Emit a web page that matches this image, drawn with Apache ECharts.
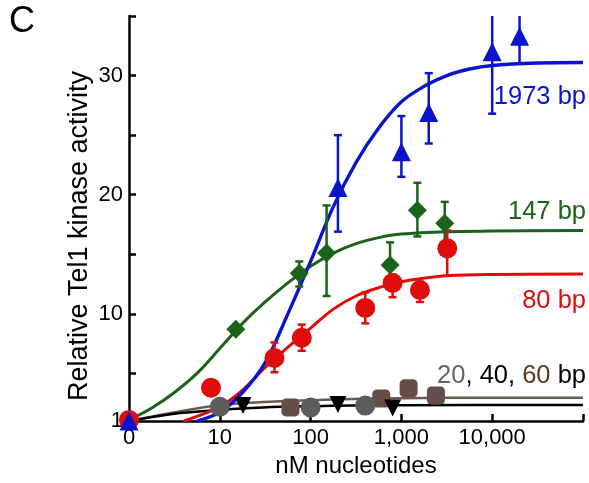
<!DOCTYPE html>
<html>
<head>
<meta charset="utf-8">
<script src="https://cdn.jsdelivr.net/npm/echarts@6/dist/echarts.min.js"></script>
<style>
  html, body { margin: 0; padding: 0; background: #fff; }
  #chart { width: 589px; height: 483px; }
</style>
</head>
<body>
<div id="chart"></div>
<script>
// x in nM nucleotides (0 is drawn at the left end of the log axis)
const yTickValues = [1, 5, 10, 15, 20, 25, 30, 35];
const yLabelValues = [1, 10, 20, 30];

// 1973 bp
const blueX = [0, 200, 1000, 2000, 10000, 20000];
const blueY = [1.0, 20.6, 23.6, 26.9, 32.0, 33.3];
const blueLo = [null, 16.9, 21.5, 24.3, 26.8, 31.0];
const blueHi = [null, 25.0, 26.6, 30.2, 36, 36];
const blueFitX = [5.6, 10, 17.8, 31.6, 56.2, 100, 178, 316, 562, 1000, 1778, 3162, 5623, 10000, 31623, 100000];
const blueFitY = [1.0, 1.75, 3.4, 5.9, 10.0, 14.4, 19.0, 22.7, 25.6, 27.8, 29.1, 30.0, 30.55, 30.85, 31.05, 31.1];

// 147 bp
const greenX = [0, 15, 75, 150, 750, 1500, 3000];
const greenY = [1.1, 8.7, 13.4, 15.1, 14.1, 18.7, 17.6];
const greenLo = [null, null, 12.3, 11.5, 12.3, 16.5, 16.0];
const greenHi = [null, null, 14.4, 19.1, 16.0, 21.0, 19.4];
const greenFitX = [1, 1.78, 3.16, 5.6, 10, 17.8, 31.6, 56.2, 100, 178, 316, 562, 1000, 3162, 10000, 100000];
const greenFitY = [1.1, 2.1, 3.4, 5.0, 7.1, 9.2, 11.0, 12.6, 14.0, 15.1, 15.9, 16.4, 16.7, 16.9, 16.95, 17.0];

// 80 bp
const redX = [0, 8, 40, 80, 400, 800, 1600, 3200];
const redY = [1.1, 3.8, 6.3, 8.0, 10.5, 12.6, 12.0, 15.5];
const redLo = [null, null, 5.1, 6.9, 9.2, 11.4, 11.0, 13.2];
const redHi = [null, null, 7.6, 9.1, 11.8, 13.3, 12.7, 17.0];
const redFitX = [4, 5.6, 10, 17.8, 31.6, 56.2, 100, 178, 316, 562, 1000, 1778, 3162, 10000, 100000];
const redFitY = [1.0, 1.4, 2.2, 3.6, 5.5, 7.2, 8.8, 10.4, 11.5, 12.2, 12.7, 13.0, 13.2, 13.3, 13.35];

// 20 bp
const grayX = [10, 100, 400];
const grayY = [2.2, 2.15, 2.3];

// 40 bp
const blackX = [18, 200, 800];
const blackY = [2.3, 2.4, 2.1];
const blackFitX = [1, 3, 10, 30, 100, 300, 1000, 100000];
const blackFitY = [1.0, 1.6, 1.95, 2.15, 2.25, 2.3, 2.33, 2.35];

// 60 bp
const brownX = [60, 600, 1200, 2400];
const brownY = [2.15, 2.9, 3.75, 3.15];
const brownFitX = [1, 3, 10, 30, 100, 300, 1000, 10000, 100000];
const brownFitY = [1.0, 1.7, 2.35, 2.6, 2.75, 2.85, 2.92, 2.97, 2.97];

const BLUE = '#0a14cc', GREEN = '#1b631b', RED = '#e00c0c';
const GRAY = '#5c5c5c', BLACK = '#000000', BROWN = '#654e47', BROWN_TXT = '#5b3a1c';
const FONT = 'Liberation Sans';

function lx(v) { return v === 0 ? 1 : v; }
function pts(xs, ys) { return xs.map((x, i) => [lx(x), ys[i]]); }
function errs(xs, lo, hi) {
  const out = [];
  xs.forEach((x, i) => { if (lo[i] != null) out.push([lx(x), lo[i], hi[i]]); });
  return out;
}

function fit(name, xs, ys, color, w) {
  return {
    name: name, type: 'line', data: pts(xs, ys), smooth: 0.35, symbol: 'none',
    lineStyle: { color: color, width: w || 3 }, z: 2, silent: true
  };
}
function errBars(xs, lo, hi, color) {
  return {
    type: 'custom', data: errs(xs, lo, hi), clip: true, z: 3, silent: true,
    renderItem: function (params, api) {
      const x = api.value(0);
      const a = api.coord([x, api.value(1)]);
      const b = api.coord([x, api.value(2)]);
      const cw = 4;
      const st = { stroke: color, lineWidth: 2.5 };
      return {
        type: 'group',
        children: [
          { type: 'line', shape: { x1: a[0], y1: a[1], x2: b[0], y2: b[1] }, style: st },
          { type: 'line', shape: { x1: a[0] - cw, y1: a[1], x2: a[0] + cw, y2: a[1] }, style: st },
          { type: 'line', shape: { x1: b[0] - cw, y1: b[1], x2: b[0] + cw, y2: b[1] }, style: st }
        ]
      };
    }
  };
}
function marks(xs, ys, color, symbol, size, rot) {
  return {
    type: 'scatter', data: pts(xs, ys), symbol: symbol, symbolSize: size,
    symbolRotate: rot || 0, itemStyle: { color: color, opacity: 1 }, z: 4, silent: true
  };
}

const myChart = echarts.init(document.getElementById('chart'));
const option = {
  backgroundColor: '#fff',
  animation: false,
  grid: { left: 129, top: 16, width: 454, height: 410.5 },
  xAxis: {
    type: 'log', logBase: 10, min: 1, max: 100000,
    name: 'nM nucleotides', nameLocation: 'middle', nameGap: 32,
    nameTextStyle: { fontFamily: FONT, fontSize: 24, color: '#000' },
    axisLine: { lineStyle: { color: '#000', width: 2.5 } },
    axisTick: { inside: true, length: 7, lineStyle: { color: '#000', width: 2.5 } },
    axisLabel: {
      fontFamily: FONT, fontSize: 22, color: '#000', margin: 6,
      formatter: function (v) {
        if (v <= 1) return '0';
        if (v >= 100000) return '';
        return v.toLocaleString('en-US');
      }
    },
    splitLine: { show: false }, minorTick: { show: false }
  },
  yAxis: {
    type: 'value', min: 1, max: 35,
    axisLine: { show: true, lineStyle: { color: '#000', width: 2.5 } },
    axisTick: { show: true, inside: true, length: 7, customValues: yTickValues, lineStyle: { color: '#000', width: 2.5 } },
    axisLabel: { fontFamily: FONT, fontSize: 22, color: '#000', margin: 6, customValues: yLabelValues },
    splitLine: { show: false }
  },
  series: [
    fit('60 bp', brownFitX, brownFitY, '#6e5852', 2.5),
    fit('40 bp', blackFitX, blackFitY, BLACK, 2.5),
    fit('80 bp', redFitX, redFitY, RED, 3),
    fit('147 bp', greenFitX, greenFitY, GREEN, 3),
    fit('1973 bp', blueFitX, blueFitY, BLUE, 3.4),
    errBars(greenX, greenLo, greenHi, GREEN),
    errBars(redX, redLo, redHi, RED),
    errBars(blueX, blueLo, blueHi, BLUE),
    marks(brownX, brownY, BROWN, 'roundRect', 18),
    marks(grayX, grayY, GRAY, 'circle', 20),
    marks(blackX, blackY, BLACK, 'triangle', 17, 180),
    marks(greenX, greenY, GREEN, 'diamond', 19),
    marks(redX, redY, RED, 'circle', 20),
    marks(blueX, blueY, BLUE, 'triangle', 19)
  ],
  graphic: [
    { type: 'text', left: 9, top: 4, style: { text: 'C', font: '36px "Liberation Sans"', fill: '#000' } },
    {
      type: 'text', x: 80, y: 236, rotation: Math.PI / 2,
      style: { text: 'Relative Tel1 kinase activity', font: '27px "Liberation Sans"', fill: '#000', align: 'center', verticalAlign: 'middle' }
    },
    { type: 'text', right: 3, top: 84, style: { text: '1973 bp', font: '25.5px "Liberation Sans"', fill: BLUE } },
    { type: 'text', right: 3, top: 199, style: { text: '147 bp', font: '25.5px "Liberation Sans"', fill: GREEN } },
    { type: 'text', right: 3, top: 288, style: { text: '80 bp', font: '25.5px "Liberation Sans"', fill: RED } },
    {
      type: 'text', right: 3, top: 363,
      style: {
        text: '{g|20}{k|, 40, }{b|60}{k| bp}',
        font: '25.5px "Liberation Sans"',
        rich: {
          g: { fill: '#666666', font: '25.5px "Liberation Sans"' },
          k: { fill: '#000000', font: '25.5px "Liberation Sans"' },
          b: { fill: BROWN_TXT, font: '25.5px "Liberation Sans"' }
        }
      }
    }
  ]
};
myChart.setOption(option);
window.onresize = function () { myChart.resize(); };
</script>
</body>
</html>
